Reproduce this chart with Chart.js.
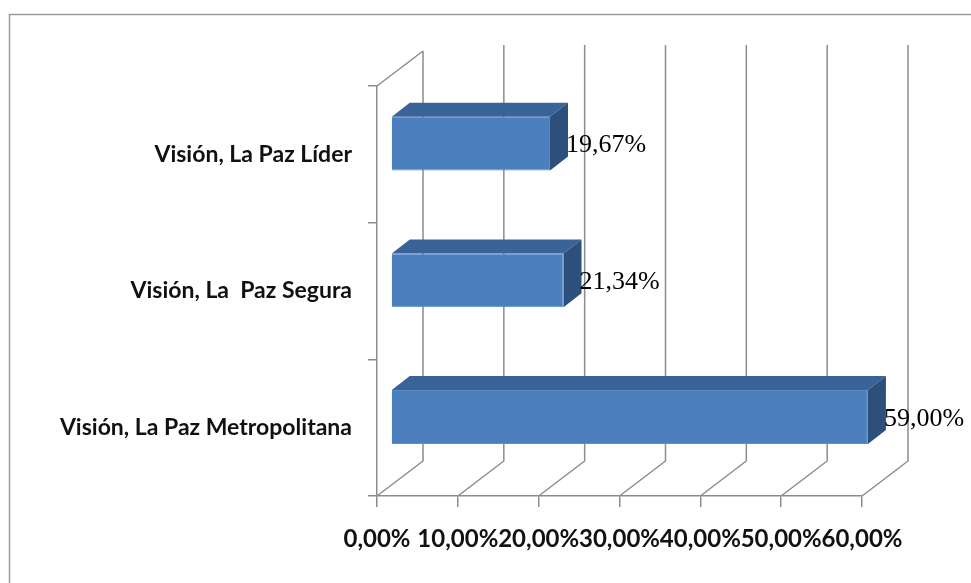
<!DOCTYPE html>
<html>
<head>
<meta charset="utf-8">
<script src="https://cdn.jsdelivr.net/npm/chart.js@4"></script>
<style>
  html, body { margin: 0; padding: 0; background: #fff; }
</style>
</head>
<body>
<canvas id="myChart" width="971" height="583"></canvas>
<script>
const ctx = document.querySelector('#myChart').getContext('2d');

// categories, values (percent) and the x tick values
const labels = [
    'Visión, La Paz Líder',
    'Visión, La  Paz Segura',
    'Visión, La Paz Metropolitana'
];
const values = [19.67, 21.34, 59.00];
const xTicks = [0, 10, 20, 30, 40, 50, 60];

// 3d offsets: back wall, bar front face, bar depth
const WALL = { dx: 46, dy: -35 };
const FRONT = { dx: 14, dy: -10.7 };
const BAR = { dx: 18, dy: -14 };

const gridColor = '#8c8c8c';
const faceColor = '#4b7fbd';
const topColor = '#3a6399';
const sideColor = '#2c4f7c';

const pct = v => v.toFixed(2).replace('.', ',') + '%';

const depth3d = {
    id: 'depth3d',
    beforeDraw(chart) {
        // frame round the chart
        const c = chart.ctx;
        c.save();
        c.strokeStyle = '#9a9a9a';
        c.lineWidth = 1.5;
        c.strokeRect(9.5, 14.5, 1000, 700);
        c.restore();
    },
    beforeDatasetsDraw(chart) {
        const c = chart.ctx;
        const a = chart.chartArea;
        const x = chart.scales.x;
        c.save();
        c.strokeStyle = gridColor;
        c.lineWidth = 1.5;
        c.beginPath();
        // top edge of the left wall
        c.moveTo(a.left, a.top);
        c.lineTo(a.left + WALL.dx, a.top + WALL.dy);
        xTicks.forEach((t, i) => {
            const px = x.getPixelForValue(t);
            c.moveTo(px, a.bottom);
            c.lineTo(px + WALL.dx, a.bottom + WALL.dy);
            c.lineTo(px + WALL.dx, a.top + WALL.dy - (i === 0 ? 0 : 6));
        });
        c.stroke();
        c.restore();
        // bars sit a little behind the front plane
        c.save();
        c.translate(FRONT.dx, FRONT.dy);
    },
    afterDatasetsDraw(chart) {
        const c = chart.ctx;
        const meta = chart.getDatasetMeta(0);
        meta.data.forEach((bar, i) => {
            const p = bar.getProps(['x', 'y', 'base', 'height'], true);
            const t = p.y - p.height / 2;
            const b = p.y + p.height / 2;
            //top face
            c.fillStyle = topColor;
            c.beginPath();
            c.moveTo(p.base, t);
            c.lineTo(p.base + BAR.dx, t + BAR.dy);
            c.lineTo(p.x + BAR.dx, t + BAR.dy);
            c.lineTo(p.x, t);
            c.closePath();
            c.fill();
            //side face
            c.fillStyle = sideColor;
            c.beginPath();
            c.moveTo(p.x, t);
            c.lineTo(p.x + BAR.dx, t + BAR.dy);
            c.lineTo(p.x + BAR.dx, b + BAR.dy);
            c.lineTo(p.x, b);
            c.closePath();
            c.fill();
            //value label
            c.fillStyle = '#000';
            c.font = '26px "Liberation Serif"';
            c.textAlign = 'left';
            c.textBaseline = 'middle';
            c.fillText(pct(values[i]), p.x + BAR.dx - 2, p.y + 2);
        });
        c.restore();
    }
};

const data = {
    labels,
    datasets: [{
        data: values,
        backgroundColor: faceColor,
        borderColor: '#5b8cc8',
        borderWidth: 1,
        barPercentage: 0.394,
        categoryPercentage: 1
    }]
};

const config = {
    type: 'bar',
    data: data,
    options: {
        indexAxis: 'y',
        responsive: false,
        animation: false,
        devicePixelRatio: 1,
        layout: { padding: { top: 86, right: 109, bottom: 0, left: 0 } },
        plugins: { legend: { display: false }, tooltip: { enabled: false } },
        scales: {
            x: {
                min: 0,
                max: 60,
                afterFit: s => { s.height = 87; },
                afterBuildTicks: s => { s.ticks = xTicks.map(v => ({ value: v })); },
                grid: { drawOnChartArea: false, tickLength: 11, color: gridColor, lineWidth: 1.5 },
                border: { color: gridColor, width: 1.5 },
                ticks: {
                    autoSkip: false,
                    maxRotation: 0,
                    minRotation: 0,
                    padding: 18,
                    color: '#111',
                    font: { family: 'Lato', size: 24, weight: 'bold' },
                    callback: v => pct(v)
                }
            },
            y: {
                afterFit: s => { s.width = 377; },
                grid: { drawOnChartArea: false, tickLength: 9, color: gridColor, lineWidth: 1.5 },
                border: { color: gridColor, width: 1.5 },
                ticks: {
                    padding: 16,
                    color: '#111',
                    font: { family: 'Lato', size: 23, weight: 'bold' }
                }
            }
        }
    },
    plugins: [depth3d]
};

const myChart = new Chart(ctx, config);
</script>
</body>
</html>
